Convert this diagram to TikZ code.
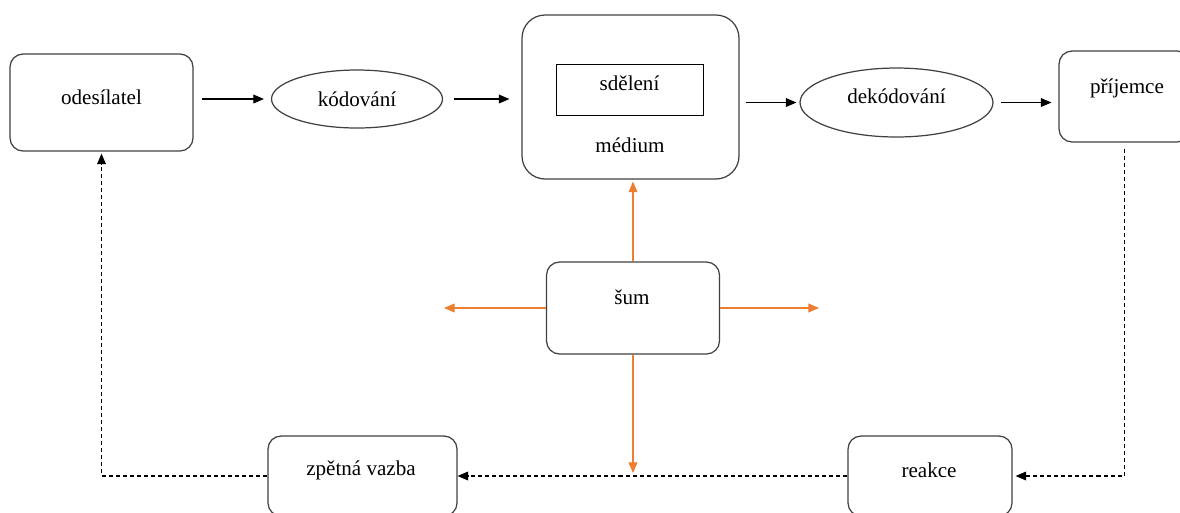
\documentclass[tikz,border=0pt]{standalone}
\usepackage{fontspec}
\setmainfont{Liberation Serif}
\usetikzlibrary{arrows.meta,shapes.geometric}

\definecolor{noise}{HTML}{ED7D31}
\definecolor{edge}{HTML}{404040}

\tikzset{
  box/.style={draw=edge, line width=0.7pt, rounded corners=0.26cm, inner sep=0pt},
  oval/.style={draw=edge, line width=0.7pt, ellipse, inner sep=0pt, font=\fontsize{12}{14}\selectfont},
  word/.style={inner sep=0pt, font=\fontsize{12}{14}\selectfont},
  link/.style={line width=0.6pt, -{Triangle[length=6pt,width=5pt]}},
  back/.style={link, dash pattern=on 2.3pt off 1.7pt},
  noisy/.style={link, draw=noise, fill=noise},
}

\begin{document}
\begin{tikzpicture}[x=0.02cm, y=-0.02cm]

\useasboundingbox (0,0) rectangle (1180,512);
\clip (0,0) rectangle (1180,512);

% top row
\node[box, minimum width=3.66cm, minimum height=1.94cm] (odes) at (101.5,102.5) {};
\node[word] (odesT) at (101.5,97) {odesílatel};

\node[oval, minimum width=3.42cm, minimum height=1.16cm] (kod) at (357,99) {kódování};

\node[box, rounded corners=0.46cm, minimum width=4.34cm, minimum height=3.28cm] (med) at (630.5,97) {};
\node[draw, line width=0.55pt, inner sep=0pt, minimum width=2.94cm, minimum height=1.02cm] (msg) at (629.5,89.5) {};
\node[word] (msgT) at (629.5,83) {sdělení};
\node[word] (medT) at (630,145) {médium};

\node[oval, minimum width=3.86cm, minimum height=1.38cm] (dek) at (896.5,102.5) {};
\node[word] (dekT) at (896.5,96) {dekódování};

\node[box, minimum width=2.62cm, minimum height=1.82cm] (prij) at (1124.5,96.5) {};
\node[word] (prijT) at (1127,88) {příjemce};

% noise
\node[box, minimum width=3.46cm, minimum height=1.84cm] (sum) at (633,308) {};
\node[word] (sumT) at (632,297) {šum};

% bottom row
\node[box, minimum width=3.28cm, minimum height=1.6cm] (reakce) at (930,476) {};
\node[word] (reakceT) at (929,470) {reakce};

\node[box, minimum width=3.78cm, minimum height=1.6cm] (zpv) at (362.5,476) {};
\node[word] (zpvT) at (361,470) {zpětná vazba};

\coordinate (nl) at (444,308);
\coordinate (nr) at (819,308);
\coordinate (nd) at (633,473);

\draw[link, shorten <=0.16cm, shorten >=0.14cm] (odes.east |- kod.west) -- (kod.west);
\draw[link, shorten <=0.22cm, shorten >=0.24cm] (kod.east) -- (kod.east -| med.west);
\draw[link, shorten <=0.12cm, shorten >=0.06cm] (med.east |- dek.west) -- (dek.west);
\draw[link, shorten <=0.14cm, shorten >=0.14cm] (dek.east) -- (dek.east -| prij.west);

\draw[back, shorten <=0.12cm, shorten >=0.06cm] (prij.south) -- (prij.south |- reakce.east) -- (reakce.east);
\draw[back] (reakce.west) -- (zpv.east);
\draw[back, shorten >=0.04cm] (zpv.west) -| (odes.south);

\draw[noisy, shorten >=0.04cm] (sum.north) -- (sum.north |- med.south);
\draw[noisy] (sum.west) -- (nl);
\draw[noisy] (sum.east) -- (nr);
\draw[noisy] (sum.south) -- (nd);

\end{tikzpicture}
\end{document}
